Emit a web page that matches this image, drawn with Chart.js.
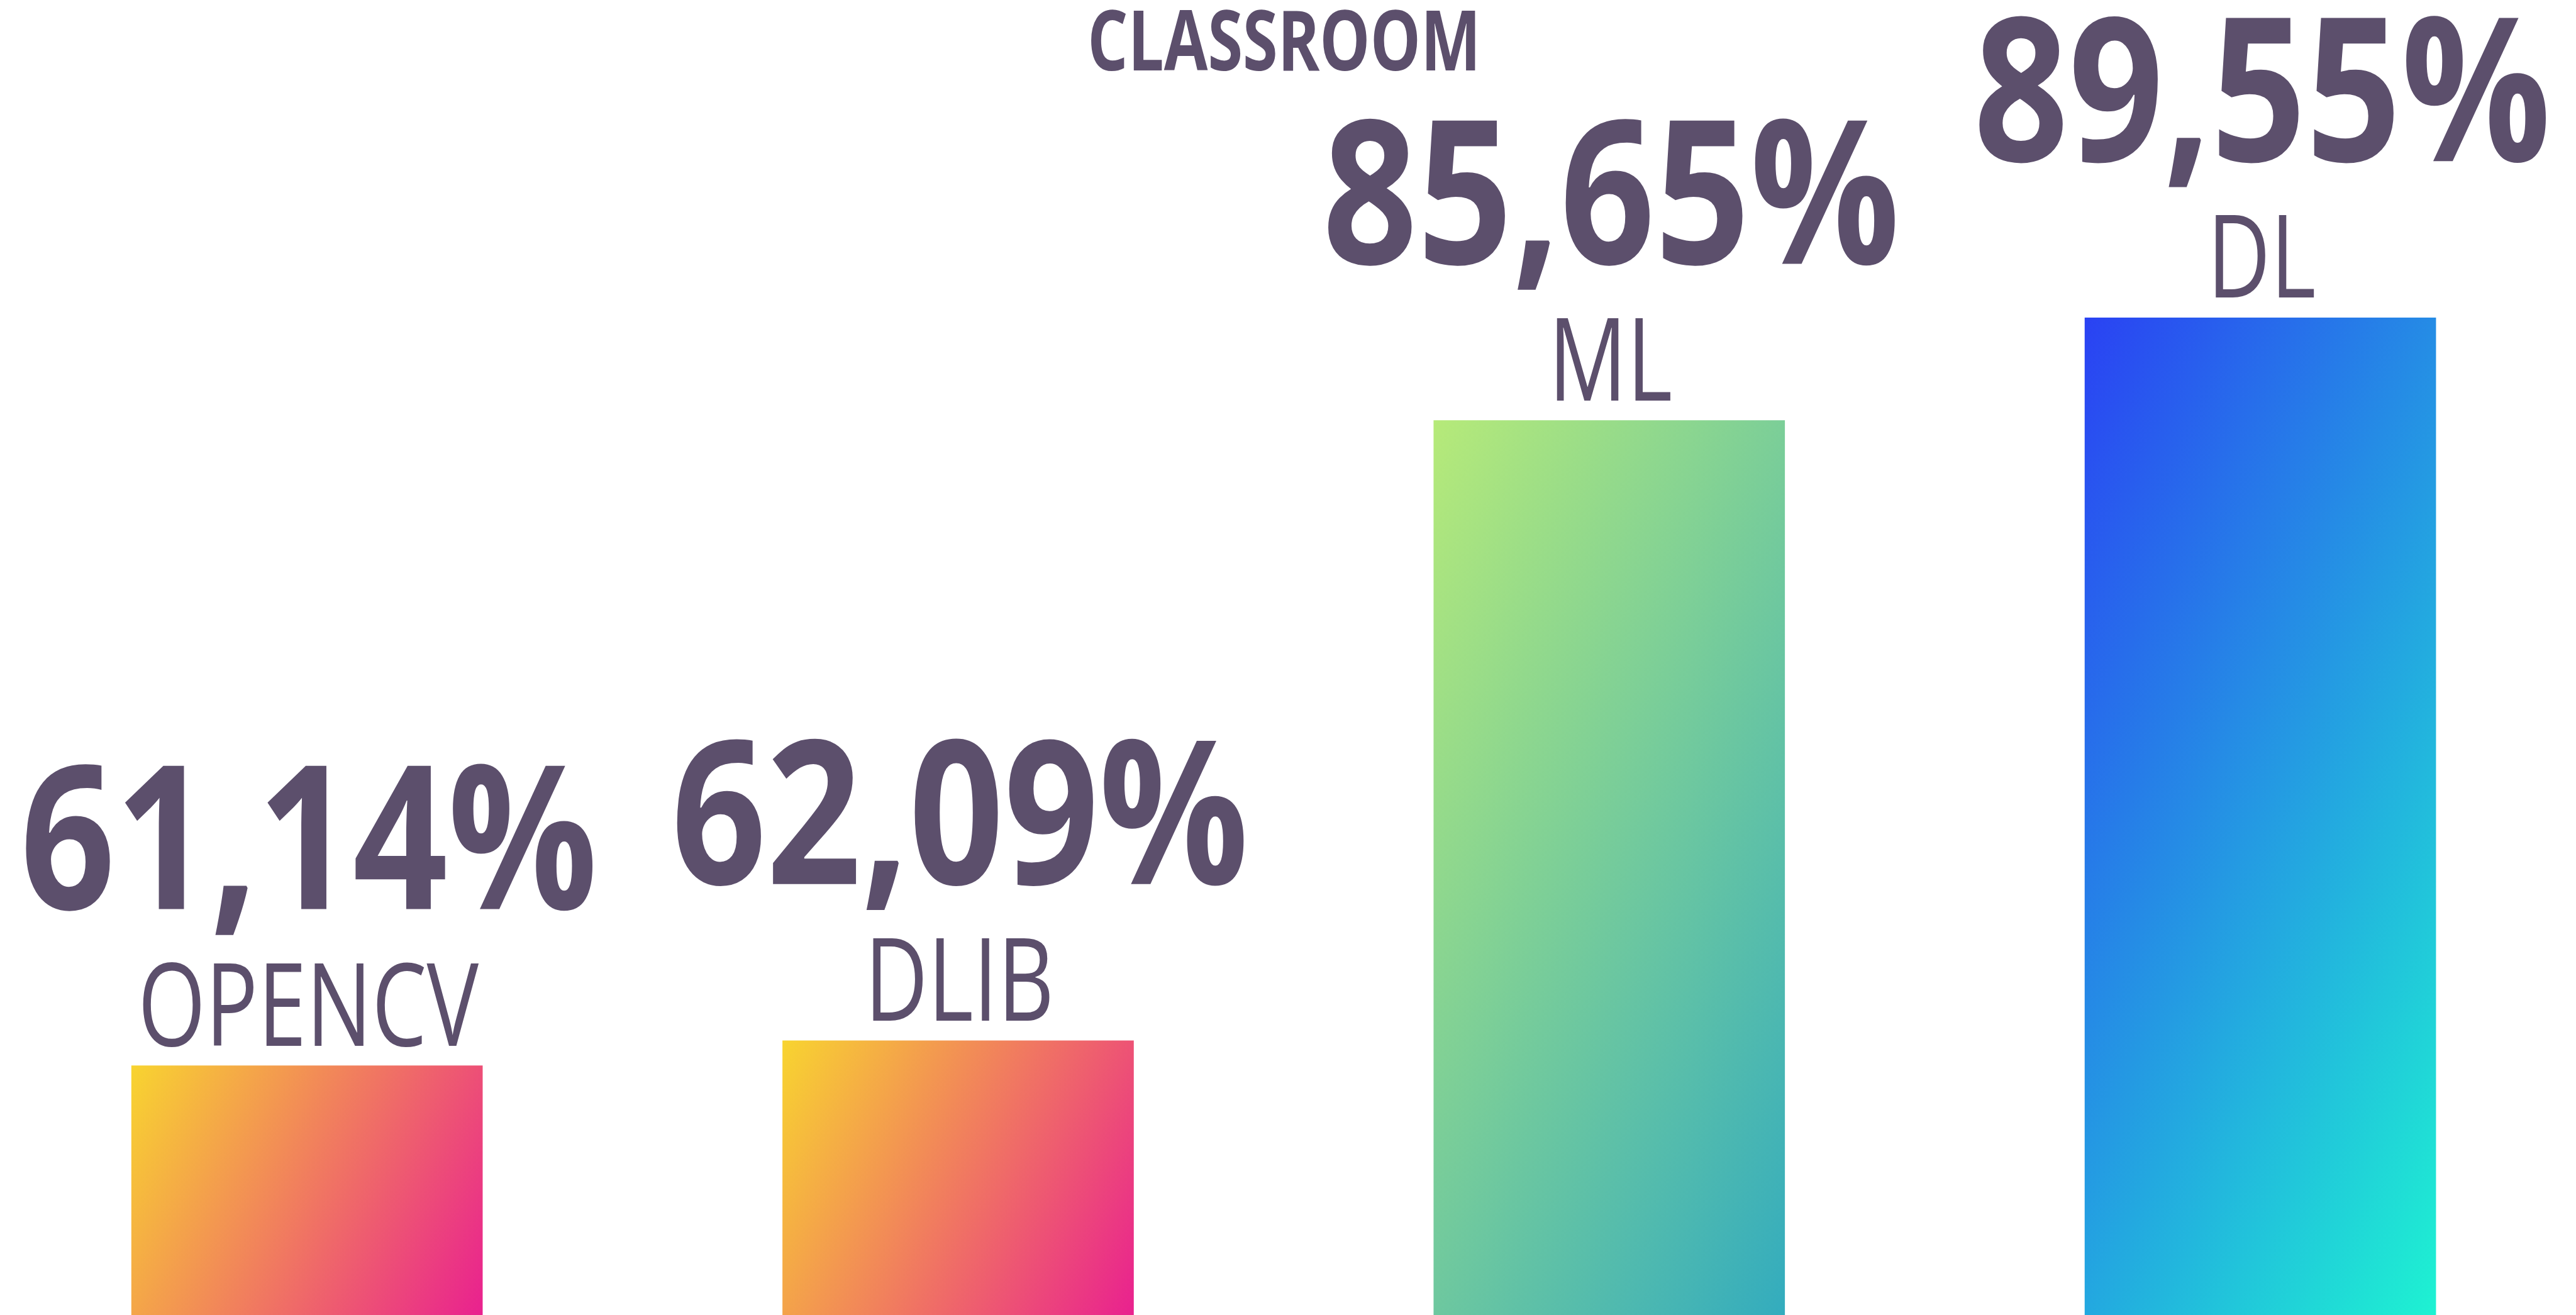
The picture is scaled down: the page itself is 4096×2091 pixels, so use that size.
<!DOCTYPE html>
<html>
<head>
<meta charset="utf-8">
<script src="https://cdn.jsdelivr.net/npm/chart.js@4.4.1/dist/chart.umd.min.js"></script>
<style>
  html, body { margin: 0; padding: 0; background: #fff; overflow: hidden; }
  #chart { display: block; }
</style>
</head>
<body>
<canvas id="chart" width="4096" height="2091"></canvas>
<script>
const categories = ["OPENCV", "DLIB", "ML", "DL"];
const accuracy = [61.14, 62.09, 85.65, 89.55];
const chartTitle = "CLASSROOM";

// colours for each bar, top-left -> bottom-right
const gradientStops = [
  ["#f8d430", "#e9218f"],
  ["#f8d430", "#e9218f"],
  ["#b6ea79", "#33acbe"],
  ["#2a42f3", "#1ef2d2"],
];

const TEXT_COLOR = "#5c4f6c";
const BAR_WIDTH = 558;
const GRAD_ANGLE = (26 * Math.PI) / 180;

function fmt(v) {
  return v.toFixed(2).replace(".", ",") + "%";
}

// css-like angled gradient over the bar's own box
function barGradient(context) {
  const chart = context.chart;
  const i = context.dataIndex;
  if (i === undefined) return gradientStops[0][0];
  const xs = chart.scales.x;
  const ys = chart.scales.y;
  if (!chart.chartArea || !xs || !ys) return gradientStops[i][0];

  const cx = xs.getPixelForValue(i);
  const w = BAR_WIDTH;
  const top = ys.getPixelForValue(accuracy[i]);
  const bottom = chart.chartArea.bottom;
  const h = bottom - top;
  const cy = (top + bottom) / 2;
  const ux = Math.cos(GRAD_ANGLE);
  const uy = Math.sin(GRAD_ANGLE);
  const half = (w * ux + h * uy) / 2;

  const g = chart.ctx.createLinearGradient(cx - ux * half, cy - uy * half, cx + ux * half, cy + uy * half);
  const stops = gradientStops[i];
  stops.forEach((c, k) => g.addColorStop(k / (stops.length - 1), c));
  return g;
}

function drawSquashed(ctx, text, x, y, sx) {
  ctx.save();
  ctx.translate(x, y);
  ctx.scale(sx, 1);
  ctx.fillText(text, 0, 0);
  ctx.restore();
}

const labelPlugin = {
  id: "barLabels",
  afterDatasetsDraw(chart) {
    const ctx = chart.ctx;
    const meta = chart.getDatasetMeta(0);
    ctx.save();
    ctx.fillStyle = TEXT_COLOR;
    ctx.textAlign = "center";
    ctx.textBaseline = "alphabetic";

    // category names just above each bar
    ctx.font = '400 183px "Open Sans"';
    const catSx = 542 / ctx.measureText(categories[0]).width;
    meta.data.forEach((bar, i) => {
      drawSquashed(ctx, categories[i], bar.x + 2, bar.y - 32, catSx);
    });

    // big percentage above the name
    ctx.font = '700 319px "Open Sans"';
    meta.data.forEach((bar, i) => {
      const txt = fmt(accuracy[i]);
      const sx = 918 / ctx.measureText(txt).width;
      drawSquashed(ctx, txt, bar.x + 3, bar.y - 249, sx);
    });

    // title
    ctx.font = '700 132px "Open Sans"';
    const tSx = 625 / ctx.measureText(chartTitle).width;
    drawSquashed(ctx, chartTitle, chart.width * 0.4985, 112, tSx);

    ctx.restore();
  },
};

new Chart(document.getElementById("chart"), {
  type: "bar",
  data: {
    datasets: [
      {
        data: categories.map((c, i) => ({ x: i, y: accuracy[i] })),
        backgroundColor: barGradient,
        borderWidth: 0,
        barThickness: BAR_WIDTH,
      },
    ],
  },
  options: {
    responsive: false,
    animation: false,
    devicePixelRatio: 1,
    layout: { padding: 0 },
    plugins: {
      legend: { display: false },
      title: { display: false },
      tooltip: { enabled: false },
    },
    scales: {
      x: {
        type: "linear",
        display: false,
        offset: false,
        bounds: "data",
        min: -0.4715,
        max: 3.4848,
        ticks: { stepSize: 1, includeBounds: false },
      },
      y: {
        display: false,
        bounds: "data",
        min: 51.67,
        max: 101.62,
      },
    },
  },
  plugins: [labelPlugin],
});
</script>
</body>
</html>
